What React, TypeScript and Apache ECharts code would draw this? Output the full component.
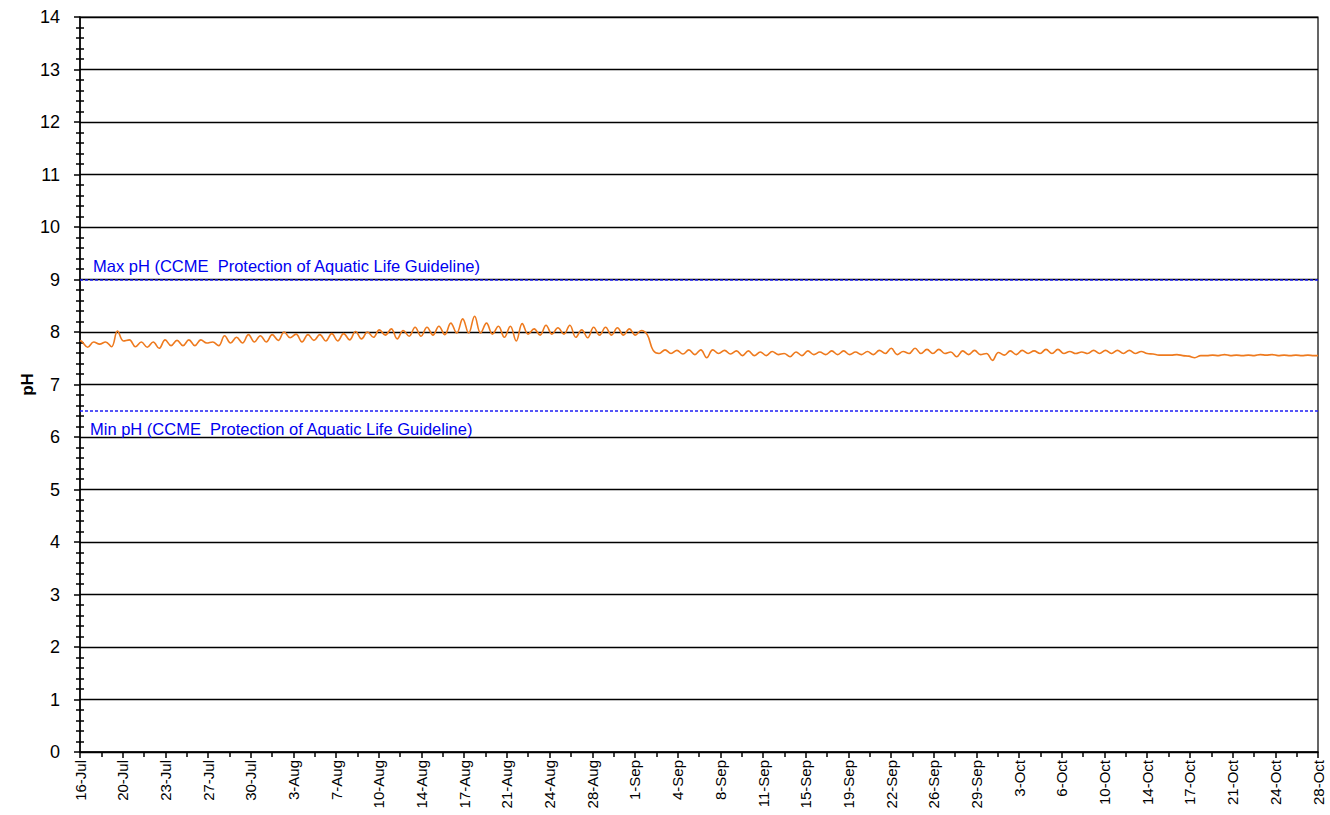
import React, { useEffect, useRef } from "react";
import * as echarts from "echarts";

// Day offsets are counted from 16-Jul
const START_YEAR = 2007;
const MONTHS = ["Jan", "Feb", "Mar", "Apr", "May", "Jun", "Jul", "Aug", "Sep", "Oct", "Nov", "Dec"];
const X_MIN_DAY = 0;
const X_MAX_DAY = 104;
const X_LABEL_COUNT = 29;

// Daily high and low pH readings (day 0 = 16-Jul)
const dailyHigh = [
  7.82, 7.81, 7.81, 8.02, 7.85, 7.81, 7.81, 7.85, 7.84, 7.85,
  7.85, 7.81, 7.93, 7.9, 7.95, 7.93, 7.95, 8.0, 7.96, 7.95,
  7.95, 7.97, 7.97, 8.01, 8.0, 8.04, 8.06, 8.03, 8.09, 8.09,
  8.11, 8.17, 8.25, 8.3, 8.17, 8.11, 8.11, 8.16, 8.06, 8.13,
  8.08, 8.13, 8.04, 8.09, 8.09, 8.08, 8.06, 8.03, 7.65, 7.66,
  7.65, 7.66, 7.66, 7.66, 7.65, 7.64, 7.64, 7.62, 7.63, 7.59,
  7.62, 7.64, 7.62, 7.64, 7.64, 7.62, 7.63, 7.65, 7.69, 7.63,
  7.69, 7.67, 7.67, 7.62, 7.64, 7.65, 7.59, 7.61, 7.64, 7.65,
  7.64, 7.67, 7.67, 7.63, 7.62, 7.65, 7.65, 7.65, 7.65, 7.63,
  7.58, 7.56, 7.57, 7.54, 7.55, 7.56, 7.57, 7.56, 7.56, 7.57,
  7.57, 7.56, 7.56, 7.56,
];
const dailyLow = [
  7.71, 7.77, 7.72, 7.83, 7.72, 7.71, 7.69, 7.74, 7.74, 7.74,
  7.79, 7.74, 7.79, 7.79, 7.81, 7.81, 7.84, 7.89, 7.81, 7.84,
  7.83, 7.83, 7.85, 7.87, 7.9, 7.94, 7.87, 7.92, 7.92, 7.94,
  7.95, 7.98, 7.98, 7.98, 7.96, 7.9, 7.83, 7.96, 7.94, 7.96,
  7.96, 7.9, 7.89, 7.94, 7.94, 7.94, 7.94, 7.95, 7.59, 7.59,
  7.58, 7.57, 7.51, 7.59, 7.58, 7.55, 7.55, 7.55, 7.57, 7.53,
  7.55, 7.57, 7.57, 7.57, 7.57, 7.57, 7.57, 7.59, 7.57, 7.59,
  7.59, 7.59, 7.59, 7.53, 7.57, 7.57, 7.46, 7.56, 7.57, 7.59,
  7.59, 7.59, 7.59, 7.59, 7.59, 7.59, 7.59, 7.59, 7.59, 7.59,
  7.56, 7.56, 7.55, 7.51, 7.55, 7.55, 7.55, 7.55, 7.55, 7.56,
  7.55, 7.55, 7.55, 7.55,
];
const firstReading = 7.84;
const lastReading = 7.55;
const HIGH_TIME = 0.15; // fraction of day at which daily high occurs
const LOW_TIME = 0.65;

const MAX_PH = 9;
const MIN_PH = 6.5;
const MAX_LABEL = "Max pH (CCME  Protection of Aquatic Life Guideline)";
const MIN_LABEL = "Min pH (CCME  Protection of Aquatic Life Guideline)";

function dayLabel(v: number): string {
  const d = new Date(Date.UTC(START_YEAR, 6, 16) + Math.round(v) * 86400000);
  return `${d.getUTCDate()}-${MONTHS[d.getUTCMonth()]}`;
}

export default function App() {
  const ref = useRef<HTMLDivElement>(null);
  useEffect(() => {
    document.body.style.margin = "0";
    if (!ref.current) return;
    const chart = echarts.init(ref.current, undefined, { renderer: "svg" });
    const pts: [number, number][] = [[X_MIN_DAY, firstReading]];
    for (let i = 0; i < dailyHigh.length; i++) {
      pts.push([i + HIGH_TIME, dailyHigh[i]]);
      pts.push([i + LOW_TIME, dailyLow[i]]);
    }
    pts.push([X_MAX_DAY, lastReading]);
    const font = "Liberation Sans, Arial, sans-serif";
    chart.setOption({
      animation: false,
      textStyle: { fontFamily: font },
      grid: {
        left: 80,
        right: 12,
        top: 17,
        bottom: 63,
        show: true,
        borderColor: "#000",
        borderWidth: 1.2,
      },
      xAxis: {
        type: "value",
        min: X_MIN_DAY,
        max: X_MAX_DAY,
        interval: (X_MAX_DAY - X_MIN_DAY) / X_LABEL_COUNT,
        axisLine: { show: true, lineStyle: { color: "#000", width: 1.5 } },
        axisTick: { show: true, length: 6, lineStyle: { color: "#000", width: 1.5 } },
        minorTick: { show: true, splitNumber: 2, length: 5, lineStyle: { color: "#000", width: 1.5 } },
        splitLine: { show: false },
        axisLabel: {
          rotate: 90,
          fontSize: 15,
          color: "#000",
          margin: 8,
          fontFamily: font,
          formatter: (v: number) => dayLabel(v),
        },
      },
      yAxis: [
        {
          type: "value",
          min: 0,
          max: 14,
          interval: 1,
          name: "pH",
          nameLocation: "middle",
          nameGap: 44,
          nameMoveOverlap: false,
          nameTextStyle: { fontSize: 17, fontWeight: "bold", color: "#000", fontFamily: font },
          axisLine: { show: true, lineStyle: { color: "#000", width: 1.5 } },
          axisTick: { show: true, length: 6, lineStyle: { color: "#000", width: 1.5 } },
          minorTick: { show: true, splitNumber: 5, length: 4, lineStyle: { color: "#000", width: 1.5 } },
          splitLine: { show: true, lineStyle: { color: "#000", width: 1.3 } },
          axisLabel: { fontSize: 18, color: "#000", margin: 20, fontFamily: font },
        },
        {
          type: "value",
          min: 0,
          max: 14,
          interval: 1,
          position: "left",
          axisLine: { show: false },
          axisTick: { show: false, inside: true },
          minorTick: { show: true, splitNumber: 5, length: 4, lineStyle: { color: "#000", width: 1.5 } },
          splitLine: { show: false },
          axisLabel: { show: false },
        },
      ],
      series: [
        {
          type: "line",
          data: pts,
          showSymbol: false,
          symbol: "none",
          smooth: 0.4,
          lineStyle: { color: "#EE7A1E", width: 1.6 },
          markLine: {
            silent: true,
            symbol: "none",
            z: 10,
            lineStyle: { color: "#1E1EF5", width: 1.6, type: [3, 2], opacity: 1 },
            data: [
              {
                yAxis: MAX_PH,
                label: {
                  show: true,
                  position: "insideStartTop",
                  formatter: MAX_LABEL,
                  color: "#0000F0",
                  fontSize: 16.5,
                  distance: [13, 5],
                  fontFamily: font,
                },
              },
              {
                yAxis: MIN_PH,
                label: {
                  show: true,
                  position: "insideStartBottom",
                  formatter: MIN_LABEL,
                  color: "#0000F0",
                  fontSize: 16.5,
                  distance: [10, 10],
                  fontFamily: font,
                },
              },
            ],
          },
        },
      ],
    });
    return () => chart.dispose();
  }, []);
  return <div ref={ref} style={{ width: 1330, height: 815 }} />;
}
